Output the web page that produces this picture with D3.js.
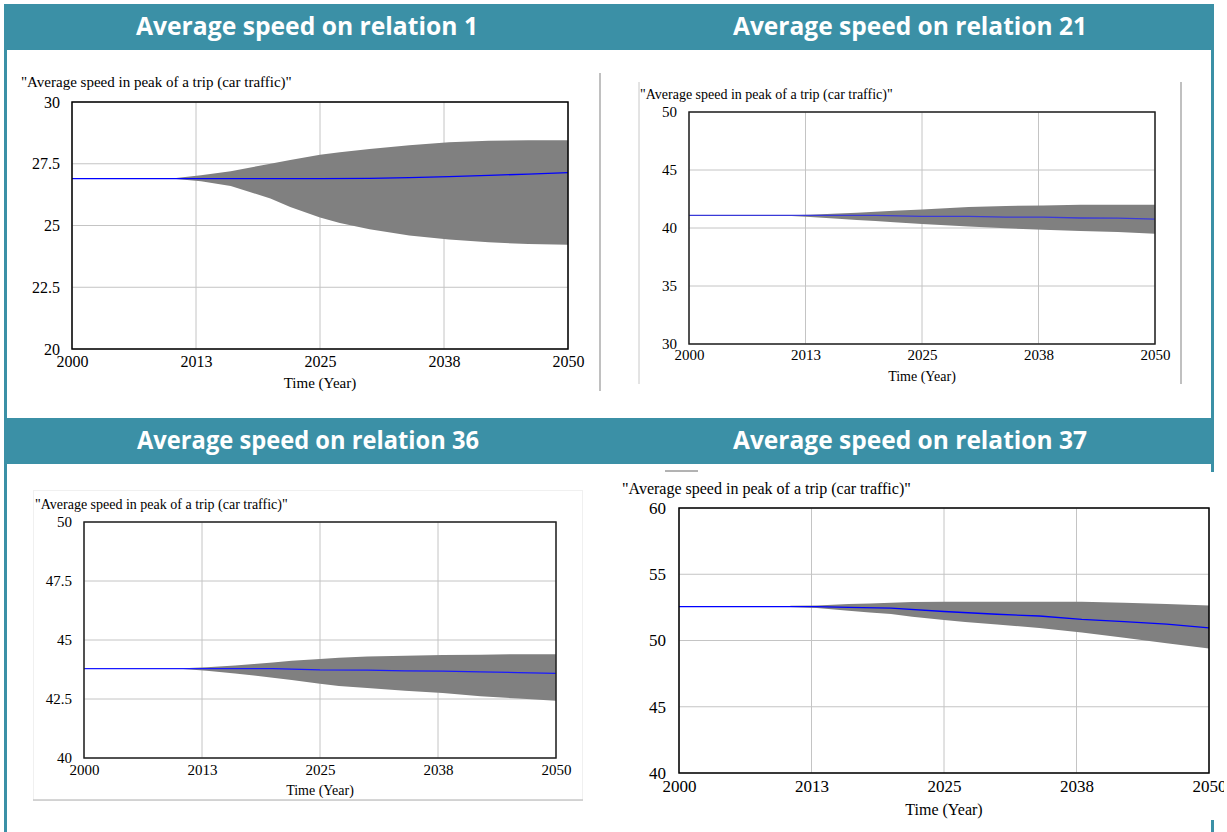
<!DOCTYPE html>
<html>
<head>
<meta charset="utf-8">
<script src="https://cdn.jsdelivr.net/npm/d3@7"></script>
<style>
  body { margin: 0; background: #fff; }
  svg { display: block; }
</style>
</head>
<body>
<div id="chart"></div>
<script>
// shared axes
const xTickVals = [2000, 2012.5, 2025, 2037.5, 2050]
const xTickLabels = ['2000', '2013', '2025', '2038', '2050']
const bandYears = [2010.5, 2013, 2016, 2018, 2020, 2022, 2025, 2027, 2030, 2034, 2038, 2042, 2046, 2050]
const lineYears = [2000, 2010.5, 2013, 2016, 2020, 2025, 2030, 2034, 2038, 2042, 2046, 2050]

// relation 1
const rel1Ticks = [20, 22.5, 25, 27.5, 30]
const rel1Upper = [26.92, 27.03, 27.2, 27.35, 27.5, 27.65, 27.86, 27.97, 28.1, 28.25, 28.37, 28.43, 28.45, 28.45]
const rel1Lower = [26.88, 26.79, 26.6, 26.35, 26.09, 25.75, 25.32, 25.1, 24.85, 24.6, 24.43, 24.32, 24.25, 24.22]
const rel1Line = [26.9, 26.9, 26.9, 26.9, 26.9, 26.9, 26.91, 26.94, 26.98, 27.03, 27.08, 27.14]

// relation 21
const rel21Ticks = [30, 35, 40, 45, 50]
const rel21Upper = [41.1, 41.15, 41.25, 41.32, 41.4, 41.48, 41.6, 41.68, 41.8, 41.9, 41.95, 42.0, 42.0, 42.0]
const rel21Lower = [41.05, 40.95, 40.8, 40.7, 40.6, 40.5, 40.35, 40.25, 40.12, 39.98, 39.85, 39.75, 39.65, 39.5]
const rel21Line = [41.08, 41.08, 41.08, 41.08, 41.08, 41.0, 41.0, 40.93, 40.93, 40.86, 40.85, 40.77]

// relation 36
const rel36Ticks = [40, 42.5, 45, 47.5, 50]
const rel36Upper = [43.8, 43.85, 43.92, 43.98, 44.05, 44.12, 44.2, 44.25, 44.3, 44.33, 44.36, 44.38, 44.4, 44.4]
const rel36Lower = [43.77, 43.7, 43.58, 43.5, 43.4, 43.3, 43.15, 43.05, 42.97, 42.85, 42.75, 42.62, 42.52, 42.43]
const rel36Line = [43.79, 43.79, 43.79, 43.79, 43.79, 43.73, 43.72, 43.69, 43.68, 43.65, 43.62, 43.59]

// relation 37
const rel37Ticks = [40, 45, 50, 55, 60]
const rel37Upper = [52.62, 52.65, 52.75, 52.8, 52.85, 52.9, 52.93, 52.93, 52.93, 52.93, 52.93, 52.85, 52.75, 52.65]
const rel37Lower = [52.52, 52.45, 52.25, 52.12, 52.0, 51.8, 51.55, 51.4, 51.2, 50.95, 50.6, 50.2, 49.8, 49.4]
const rel37Line = [52.56, 52.56, 52.56, 52.5, 52.44, 52.19, 51.98, 51.85, 51.6, 51.43, 51.23, 50.95]

const titles = ['Average speed on relation 1', 'Average speed on relation 21',
	'Average speed on relation 36', 'Average speed on relation 37']
const varLabel = '"Average speed in peak of a trip (car traffic)"'

const W = 1227, H = 832
const teal = '#3b90a6'
const serif = '"Liberation Serif", "Times New Roman", serif'

const svg = d3.select('#chart').append('svg')
	.attr('width', W)
	.attr('height', H)

svg.append('rect').attr('width', W).attr('height', H).attr('fill', '#fff')

// teal frame
svg.append('rect').attr('x', 4).attr('y', 4).attr('width', 3).attr('height', H - 4).attr('fill', teal)
svg.append('rect').attr('x', 1211).attr('y', 4).attr('width', 3).attr('height', H - 4).attr('fill', teal)
svg.append('rect').attr('x', 4).attr('y', 4).attr('width', 1210).attr('height', 46).attr('fill', teal)
svg.append('rect').attr('x', 4).attr('y', 418).attr('width', 1210).attr('height', 46).attr('fill', teal)

const titlePos = [[307, 25], [910, 25], [308, 439], [910, 439]]
titles.forEach(function(t, i) {
	svg.append('text')
		.attr('x', titlePos[i][0])
		.attr('y', titlePos[i][1])
		.attr('text-anchor', 'middle')
		.attr('dominant-baseline', 'central')
		.attr('font-family', '"Open Sans", sans-serif')
		.attr('font-weight', 'bold')
		.attr('font-size', 25)
		.attr('fill', '#fff')
		.attr('textLength', i % 2 == 0 ? 342 : 354)
		.attr('lengthAdjust', 'spacingAndGlyphs')
		.text(t)
})

// panel 4 sits on top of the right teal border
svg.append('rect').attr('x', 610).attr('y', 472).attr('width', 614).attr('height', 348).attr('fill', '#fff')

// decorations round the pasted charts
svg.append('line').attr('x1', 600).attr('x2', 600).attr('y1', 73).attr('y2', 391)
	.attr('stroke', '#c0c0c0').attr('stroke-width', 2)
svg.append('line').attr('x1', 639).attr('x2', 639).attr('y1', 82).attr('y2', 384)
	.attr('stroke', '#c8c8c8').attr('stroke-width', 1)
svg.append('line').attr('x1', 1181).attr('x2', 1181).attr('y1', 82).attr('y2', 384)
	.attr('stroke', '#c0c0c0').attr('stroke-width', 2)
svg.append('rect').attr('x', 33.5).attr('y', 490.5).attr('width', 549).attr('height', 310)
	.attr('fill', 'none').attr('stroke', '#f0f0f0')
svg.append('line').attr('x1', 33).attr('x2', 583).attr('y1', 800).attr('y2', 800)
	.attr('stroke', '#c8c8c8').attr('stroke-width', 1.5)
svg.append('line').attr('x1', 665).attr('x2', 698).attr('y1', 471).attr('y2', 471)
	.attr('stroke', '#666').attr('stroke-width', 1)

svg.append('defs').append('clipPath').attr('id', 'clip4')
	.append('rect').attr('x', 600).attr('y', 460).attr('width', 624).attr('height', 372)

function drawPanel(p) {
	const g = svg.append('g')
	if (p.clip) g.attr('clip-path', 'url(#' + p.clip + ')')

	const xScale = d3.scaleLinear().domain([2000, 2050]).range([p.x0, p.x1])
	const yScale = d3.scaleLinear().domain(d3.extent(p.ticks)).range([p.y1, p.y0])

	g.append('text')
		.attr('x', p.lx)
		.attr('y', p.ly)
		.attr('font-family', serif)
		.attr('font-size', p.lfs)
		.attr('fill', '#000')
		.text(varLabel)

	// grid
	g.selectAll(null).data(xTickVals).join('line')
		.attr('x1', d => xScale(d)).attr('x2', d => xScale(d))
		.attr('y1', p.y0).attr('y2', p.y1)
		.attr('stroke', '#c4c4c4').attr('stroke-width', 1)
	g.selectAll(null).data(p.ticks).join('line')
		.attr('x1', p.x0).attr('x2', p.x1)
		.attr('y1', d => yScale(d)).attr('y2', d => yScale(d))
		.attr('stroke', '#c4c4c4').attr('stroke-width', 1)

	// band
	const band = bandYears.map((y, i) => ({ year: y, hi: p.upper[i], lo: p.lower[i] }))
	g.append('path')
		.datum(band)
		.attr('d', d3.area().x(d => xScale(d.year)).y0(d => yScale(d.lo)).y1(d => yScale(d.hi)))
		.attr('fill', '#808080')

	const line = lineYears.map((y, i) => ({ year: y, v: p.line[i] }))
	g.append('path')
		.datum(line)
		.attr('d', d3.line().x(d => xScale(d.year)).y(d => yScale(d.v)))
		.attr('fill', 'none')
		.attr('stroke', p.lineColor)
		.attr('stroke-width', 1.3)

	// frame
	g.append('rect')
		.attr('x', p.x0).attr('y', p.y0)
		.attr('width', p.x1 - p.x0).attr('height', p.y1 - p.y0)
		.attr('fill', 'none').attr('stroke', p.frame).attr('stroke-width', 1.5)

	const xAxis = g.append('g')
		.attr('transform', 'translate(0,' + p.y1 + ')')
		.call(d3.axisBottom(xScale).tickValues(xTickVals).tickSize(0).tickPadding(p.xPad)
			.tickFormat((d, i) => xTickLabels[i]))
	const yAxis = g.append('g')
		.attr('transform', 'translate(' + p.x0 + ',0)')
		.call(d3.axisLeft(yScale).tickValues(p.ticks).tickSize(0).tickPadding(p.yPad)
			.tickFormat(d => String(d)))
	;[xAxis, yAxis].forEach(function(a) {
		a.select('.domain').remove()
		a.selectAll('text')
			.attr('font-family', serif)
			.attr('font-size', p.fs)
			.attr('fill', '#000')
	})

	g.append('text')
		.attr('x', (p.x0 + p.x1) / 2)
		.attr('y', p.ty)
		.attr('text-anchor', 'middle')
		.attr('font-family', serif)
		.attr('font-size', p.lfs)
		.attr('fill', '#000')
		.text('Time (Year)')
}

drawPanel({ x0: 72, x1: 568, y0: 102, y1: 349, lx: 21, ly: 87, ty: 388, fs: 16, lfs: 15, xPad: 7, yPad: 12,
	ticks: rel1Ticks, upper: rel1Upper, lower: rel1Lower, line: rel1Line, lineColor: '#0000ff', frame: '#000' })
drawPanel({ x0: 689, x1: 1155, y0: 112, y1: 344, lx: 640, ly: 99, ty: 381, fs: 15, lfs: 14, xPad: 5, yPad: 12,
	ticks: rel21Ticks, upper: rel21Upper, lower: rel21Lower, line: rel21Line, lineColor: '#3a3ad8', frame: '#222' })
drawPanel({ x0: 84, x1: 556, y0: 522, y1: 758, lx: 35, ly: 509, ty: 795, fs: 15, lfs: 14, xPad: 6, yPad: 12,
	ticks: rel36Ticks, upper: rel36Upper, lower: rel36Lower, line: rel36Line, lineColor: '#1a1aff', frame: '#222' })
drawPanel({ x0: 679, x1: 1209, y0: 508, y1: 773, lx: 622, ly: 494, ty: 815, fs: 17, lfs: 16, xPad: 7, yPad: 13, clip: 'clip4',
	ticks: rel37Ticks, upper: rel37Upper, lower: rel37Lower, line: rel37Line, lineColor: '#0000ff', frame: '#000' })
</script>
</body>
</html>
